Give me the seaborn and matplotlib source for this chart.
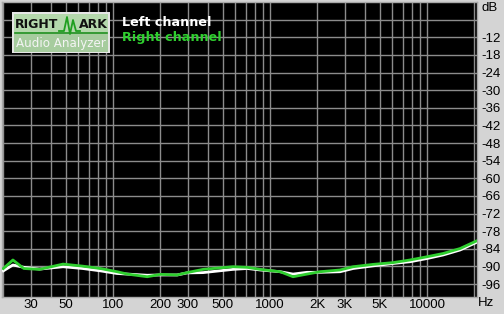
import matplotlib
matplotlib.use("Agg")
import matplotlib.pyplot as plt
import numpy as np
import pandas as pd
import seaborn as sns
from matplotlib.patches import Rectangle

# ---- data ----
freq_hz = [20, 23, 27, 34, 48, 64, 83, 106, 123, 165, 200, 256, 296, 374, 580,
           714, 864, 1160, 1400, 1720, 2080, 2790, 3380, 4530, 6070, 7790,
           10000, 12650, 16230, 20700]
left_db = [-91.5, -89.5, -90.3, -90.9, -90.1, -90.7, -91.5, -92.4, -92.6, -93.0,
           -92.9, -92.9, -92.2, -92.1, -91.0, -90.7, -91.2, -91.8, -92.6, -92.0,
           -92.0, -91.8, -90.7, -89.8, -89.0, -88.4, -87.3, -86.1, -84.4, -81.8]
right_db = [-90.7, -87.8, -90.7, -91.0, -89.2, -89.9, -90.7, -91.8, -92.6, -93.5,
            -92.7, -92.9, -92.1, -91.0, -90.1, -90.3, -91.0, -91.8, -93.5, -92.6,
            -91.8, -91.2, -90.1, -89.3, -88.7, -87.8, -86.7, -85.6, -83.9, -81.3]
channels = ["Left channel", "Right channel"]
x_tick_values = [30, 50, 100, 200, 300, 500, 1000, 2000, 3000, 5000, 10000]
x_tick_labels = ["30", "50", "100", "200", "300", "500", "1000", "2K", "3K", "5K", "10000"]
y_tick_values = [-6, -12, -18, -24, -30, -36, -42, -48, -54, -60, -66, -72, -78, -84, -90, -96]
y_tick_labels = [""] + [str(v) for v in y_tick_values[1:]]

n = len(freq_hz)
df = pd.DataFrame({
    "Frequency": freq_hz * 2,
    "Level": left_db + right_db,
    "Channel": [channels[0]] * n + [channels[1]] * n,
})

W, H = 504, 314
BG = "#d4d4d4"
GREEN = "#2fcf2f"

fig = plt.figure(figsize=(W / 100, H / 100), dpi=100, facecolor=BG)
ax = fig.add_axes([2 / W, 17 / H, 475 / W, 295 / H])
ax.set_facecolor("black")

sns.lineplot(data=df, x="Frequency", y="Level", hue="Channel", hue_order=channels,
             palette={channels[0]: "white", channels[1]: GREEN},
             ax=ax, legend=False, linewidth=2.0, sort=False, zorder=3)

ax.set_xscale("log")
ax.set_xlim(19.6, 20800)
ax.set_ylim(-100.4, 0)

ax.set_xticks(x_tick_values)
ax.set_xticklabels(x_tick_labels)
ax.xaxis.set_minor_locator(matplotlib.ticker.LogLocator(base=10, subs=np.arange(2, 10)))
ax.xaxis.set_minor_formatter(matplotlib.ticker.NullFormatter())
ax.set_yticks(y_tick_values)
ax.set_yticklabels(y_tick_labels)
ax.yaxis.tick_right()

ax.grid(which="both", axis="x", color="#8c8c8c", linewidth=1.0, zorder=1)
ax.grid(which="major", axis="y", color="#8c8c8c", linewidth=1.0, zorder=1)
ax.set_axisbelow(True)
ax.tick_params(axis="both", which="both", length=0)
ax.tick_params(axis="y", pad=3, labelsize=9.5)
ax.tick_params(axis="x", pad=1.5, labelsize=9.5)
for lab in ax.get_xticklabels() + ax.get_yticklabels():
    lab.set_family("Liberation Sans")
    lab.set_color("black")
ax.set_xlabel("")
ax.set_ylabel("")
for s in ax.spines.values():
    s.set_color("#a8a8a8")
    s.set_linewidth(1)

fig.text(481 / W, 1 - 8 / H, "dB", ha="left", va="center", fontsize=9.5,
         family="Liberation Sans", color="black")
fig.text(478 / W, 1 - 303 / H, "Hz", ha="left", va="center", fontsize=9.5,
         family="Liberation Sans", color="black")

# legend texts
fig.text(122 / W, 1 - 22 / H, channels[0], ha="left", va="center", fontsize=9.2,
         fontweight="bold", color="white", family="DejaVu Sans")
fig.text(122 / W, 1 - 38 / H, channels[1], ha="left", va="center", fontsize=9.2,
         fontweight="bold", color=GREEN, family="DejaVu Sans")

# logo
lg = fig.add_axes([12 / W, 1 - 53 / H, 98 / W, 41 / H])
lg.set_xlim(0, 98)
lg.set_ylim(41, 0)
lg.axis("off")
lg.add_patch(Rectangle((0, 0), 98, 41, facecolor="#e6e6e6", edgecolor="none"))
lg.add_patch(Rectangle((1.5, 1.5), 95, 38, facecolor="#b4d8ac", edgecolor="none"))
lg.add_patch(Rectangle((1.5, 22), 95, 17.5, facecolor="#a6cc9e", edgecolor="none"))
lg.plot([3, 95], [21, 21], color="#1f8f1f", lw=1.2)
lg.text(3, 13, "RIGHT", ha="left", va="center", fontsize=9, fontweight="bold",
        color="#111111", family="DejaVu Sans")
lg.plot([47, 52, 55, 58, 61, 64, 68], [19, 19, 5, 22, 8, 19, 19], color="#1f9f1f", lw=1.3)
lg.text(67, 13, "ARK", ha="left", va="center", fontsize=9, fontweight="bold",
        color="#111111", family="DejaVu Sans")
lg.text(49, 31, "Audio Analyzer", ha="center", va="center", fontsize=8.6,
        color="#f4f4f4", family="DejaVu Sans")

fig.savefig("out.png", dpi=100, facecolor=BG)
